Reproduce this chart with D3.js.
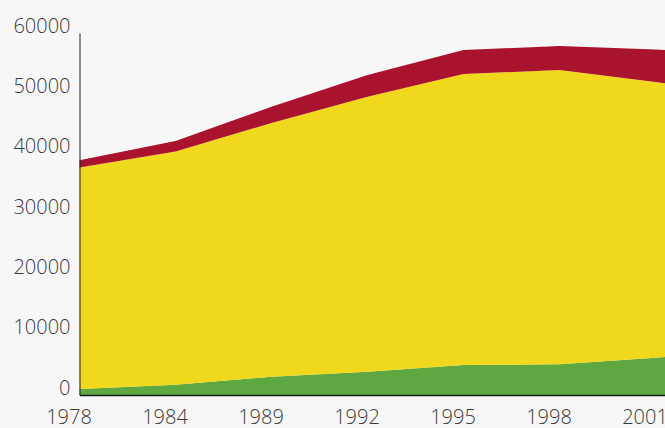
<!DOCTYPE html>
<html>
<head>
<meta charset="utf-8">
<script src="https://cdn.jsdelivr.net/npm/d3@7/dist/d3.min.js"></script>
<style>
	html, body { margin: 0; padding: 0; background: #f7f7f7; }
	#canvas { width: 665px; height: 428px; overflow: hidden; }
	text { font-family: "Open Sans", "Noto Sans", sans-serif; font-weight: 300; }
</style>
</head>
<body>
<div id="canvas"></div>
<script>
// Chart data (2004 is only partly visible at the right edge)
var years = ['1978', '1984', '1989', '1992', '1995', '1998', '2001', '2004'];
var green = [1000, 1700, 3030, 3860, 4970, 5090, 6180, 7290];
var yellow = [36700, 38650, 42050, 45580, 48230, 48780, 45700, 42600];
var red = [1190, 1770, 2710, 3600, 3980, 3980, 5370, 6630];
var yTicks = [0, 10000, 20000, 30000, 40000, 50000, 60000];
var xLabels = ['1978', '1984', '1989', '1992', '1995', '1998', '2001'];

document.addEventListener('DOMContentLoaded', function() {
	var width = 665,
		height = 428,
		left = 79.5,
		top = 33,
		bottom = 395,
		colors = { green: '#5fa841', yellow: '#f0d81c', red: '#a9132e' };

	var svg = d3.select('#canvas').append('svg')
		.attr('width', width)
		.attr('height', height);

	var rows = years.map(function(y, i) {
		return { year: y, green: green[i], yellow: yellow[i], red: red[i] };
	});

	var x = d3.scalePoint()
		.domain(years)
		.range([left, left + 96 * (years.length - 1)]);

	var y = d3.scaleLinear()
		.domain([0, 60000])
		.range([bottom, top]);

	var series = d3.stack().keys(['green', 'yellow', 'red'])(rows);

	var area = d3.area()
		.x(function(d) { return x(d.data.year); })
		.y0(function(d) { return y(d[0]); })
		.y1(function(d) { return y(d[1]); });

	svg.selectAll('path.layer')
		.data(series)
		.enter()
		.append('path')
		.attr('class', 'layer')
		.attr('fill', function(d) { return colors[d.key]; })
		.attr('d', area);

	// y axis: line plus labels sitting on the tick value
	var yAxis = d3.axisLeft(y).tickValues(yTicks).tickFormat(d3.format('d')).tickSize(0).tickPadding(9);
	var gy = svg.append('g').attr('transform', 'translate(' + left + ',0)').call(yAxis);
	gy.select('.domain').attr('stroke', '#222').attr('stroke-width', 1);
	gy.selectAll('text')
		.attr('dy', '-0.05em')
		.style('font-size', '20px')
		.attr('fill', '#3a3a3a');

	// x axis
	var xAxis = d3.axisBottom(x).tickValues(xLabels).tickSize(0).tickPadding(0);
	var gx = svg.append('g').attr('transform', 'translate(0,' + bottom + ')').call(xAxis);
	gx.select('.domain').attr('stroke', '#1a1a1a').attr('stroke-width', 1.5);
	gx.selectAll('text')
		.attr('x', -11)
		.attr('y', 29)
		.attr('dy', 0)
		.style('font-size', '20px')
		.attr('fill', '#3a3a3a');
});
</script>
</body>
</html>
